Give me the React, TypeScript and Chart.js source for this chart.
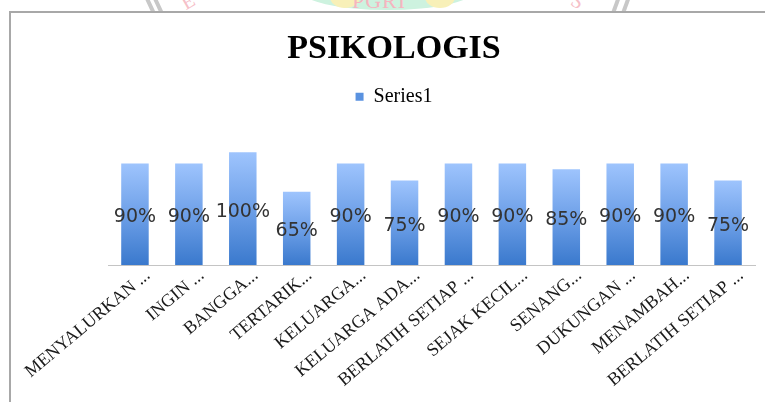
import React, { useEffect, useRef } from "react";
import { Chart, registerables } from "chart.js";

Chart.register(...registerables);

const categories = [
  "MENYALURKAN ...",
  "INGIN ...",
  "BANGGA...",
  "TERTARIK...",
  "KELUARGA...",
  "KELUARGA ADA...",
  "BERLATIH SETIAP ...",
  "SEJAK KECIL...",
  "SENANG...",
  "DUKUNGAN ...",
  "MENAMBAH...",
  "BERLATIH SETIAP ...",
];
const series1 = [0.9, 0.9, 1.0, 0.65, 0.9, 0.75, 0.9, 0.9, 0.85, 0.9, 0.9, 0.75];
const seriesName = "Series1";
const titleText = "PSIKOLOGIS";

const LEGEND_EXTRA = 13;

const legendSpacer = {
  id: "legendSpacer",
  beforeInit(chart: any) {
    const legend = chart.legend;
    if (!legend) return;
    const orig = legend.fit;
    legend.fit = function fit() {
      orig.call(this);
      this.height += LEGEND_EXTRA;
    };
  },
};

const barLabels = {
  id: "barLabels",
  afterDatasetsDraw(chart: any) {
    const ctx = chart.ctx;
    const meta = chart.getDatasetMeta(0);
    ctx.save();
    ctx.font = "19px 'DejaVu Sans'";
    ctx.fillStyle = "#333333";
    ctx.textAlign = "center";
    ctx.textBaseline = "middle";
    meta.data.forEach((bar: any, i: number) => {
      const v = chart.data.datasets[0].data[i] as number;
      const y = (bar.y + bar.base) / 2 + 3;
      ctx.fillText(Math.round(v * 100) + "%", bar.x, y);
    });
    ctx.restore();
  },
};

export default function App() {
  const ref = useRef<HTMLCanvasElement | null>(null);

  useEffect(() => {
    if (!ref.current) return;
    const chart = new Chart(ref.current, {
      type: "bar",
      data: {
        labels: categories,
        datasets: [
          {
            label: seriesName,
            data: series1,
            categoryPercentage: 1,
            barPercentage: 0.51,
            backgroundColor: (c: any) => {
              const ch = c.chart;
              const scales = ch.scales;
              if (!ch.chartArea || !scales || !scales.y || c.raw == null) return "#5b93dd";
              const top = scales.y.getPixelForValue(c.raw);
              const bottom = scales.y.getPixelForValue(0);
              if (!isFinite(top) || !isFinite(bottom) || top === bottom) return "#5b93dd";
              const g = ch.ctx.createLinearGradient(0, top, 0, bottom);
              g.addColorStop(0, "rgb(158,196,253)");
              g.addColorStop(0.5, "rgb(110,160,232)");
              g.addColorStop(1, "rgb(58,121,205)");
              return g;
            },
            borderWidth: 0,
          },
        ],
      },
      options: {
        responsive: false,
        animation: false,
        layout: { padding: { left: 33, right: 10, top: 0, bottom: 0 } },
        plugins: {
          title: {
            display: true,
            text: titleText,
            color: "#000000",
            font: { family: "'Liberation Serif'", size: 34, weight: "bold" },
            padding: { top: 29, bottom: 7 },
          },
          legend: {
            display: true,
            position: "top",
            labels: {
              font: { family: "'Liberation Serif'", size: 20 },
              color: "#262626",
              boxWidth: 8,
              boxHeight: 8,
              padding: 10,
              generateLabels: () => [
                {
                  text: seriesName,
                  fillStyle: "#5a92e0",
                  strokeStyle: "#5a92e0",
                  lineWidth: 0,
                  hidden: false,
                  datasetIndex: 0,
                },
              ],
            },
          },
          tooltip: { enabled: false },
        },
        scales: {
          x: {
            grid: { display: false, drawTicks: false },
            border: { display: true, color: "#c4c4c4", width: 1 },
            ticks: {
              autoSkip: false,
              minRotation: 40,
              maxRotation: 40,
              labelOffset: 13,
              padding: 0,
              color: "#1a1a1a",
              font: { family: "'Liberation Serif'", size: 18 },
            },
            afterFit: (scale: any) => {
              scale.height = 137;
            },
          },
          y: {
            display: true,
            min: 0,
            max: 1.2,
            grid: { display: false, drawTicks: false },
            border: { display: false },
            ticks: { display: false },
            afterFit: (scale: any) => {
              scale.width = 75;
            },
          },
        },
      },
      plugins: [legendSpacer, barLabels],
    });
    return () => chart.destroy();
  }, []);

  const wm = (s: React.CSSProperties) => <div style={{ position: "absolute", ...s }} />;

  return (
    <div
      style={{
        position: "fixed",
        left: 0,
        top: 0,
        width: 765,
        height: 402,
        overflow: "hidden",
        background: "#ffffff",
      }}
    >
      <div style={{ position: "absolute", left: 0, top: 0, width: 765, height: 11, overflow: "hidden" }}>
        {wm({ left: 300, top: -30, width: 175, height: 40, borderRadius: "50%", background: "#cdf2df" })}
        {wm({ left: 330, top: -14, width: 30, height: 22, borderRadius: "50%", background: "#f8f0b8" })}
        {wm({ left: 425, top: -14, width: 30, height: 22, borderRadius: "50%", background: "#f8f0b8" })}
        <div
          style={{
            position: "absolute",
            left: 352,
            top: -12,
            fontFamily: "'Liberation Serif'",
            fontSize: 22,
            color: "#f5b5bf",
            letterSpacing: 1,
          }}
        >
          PGRI
        </div>
        {wm({ left: 148, top: -4, width: 4, height: 18, background: "#c8c8c8", transform: "rotate(-25deg)" })}
        {wm({ left: 156, top: -4, width: 4, height: 18, background: "#c8c8c8", transform: "rotate(-25deg)" })}
        {wm({ left: 614, top: -4, width: 4, height: 18, background: "#c8c8c8", transform: "rotate(20deg)" })}
        {wm({ left: 624, top: -4, width: 4, height: 18, background: "#c8c8c8", transform: "rotate(20deg)" })}
        <div style={{ position: "absolute", left: 182, top: -10, fontFamily: "'Liberation Serif'", fontSize: 20, color: "#f6c0c8", transform: "rotate(-30deg)" }}>E</div>
        <div style={{ position: "absolute", left: 572, top: -10, fontFamily: "'Liberation Serif'", fontSize: 20, color: "#f6c0c8", transform: "rotate(30deg)" }}>S</div>
      </div>
      <div
        style={{
          position: "absolute",
          left: 9,
          top: 11,
          width: 900,
          height: 600,
          borderTop: "2px solid #a8a8a8",
          borderLeft: "2px solid #a8a8a8",
          boxSizing: "border-box",
          background: "#ffffff",
        }}
      />
      <canvas
        ref={ref}
        width={765}
        height={402}
        style={{ position: "absolute", left: 0, top: 0, width: 765, height: 402 }}
      />
    </div>
  );
}
